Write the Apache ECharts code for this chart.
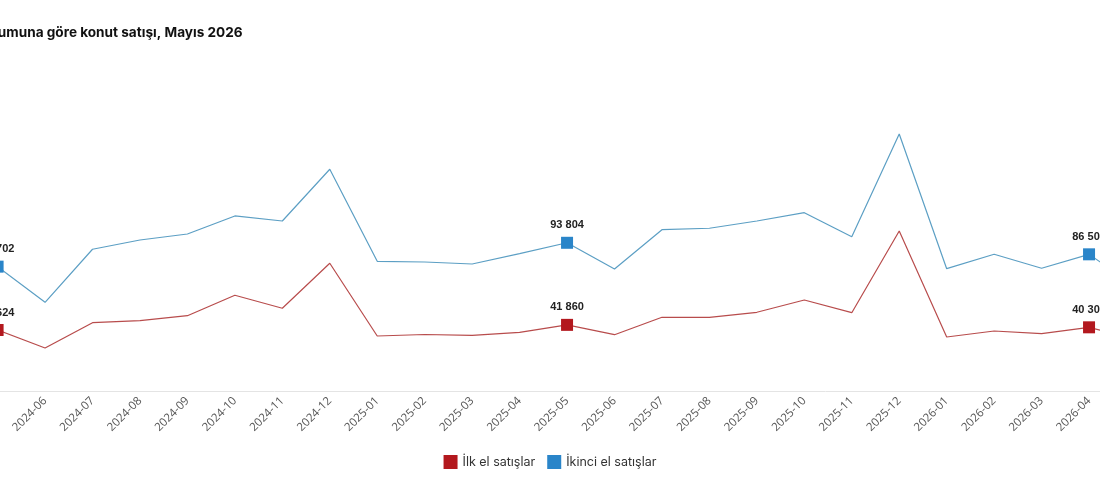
<!DOCTYPE html>
<html>
<head>
<meta charset="utf-8">
<script src="https://cdn.jsdelivr.net/npm/echarts@6/dist/echarts.min.js"></script>
<style>
  html, body { margin: 0; padding: 0; background: #fff; overflow: hidden; }
  #chart { width: 1100px; height: 494px; }
</style>
</head>
<body>
<div id="chart"></div>
<script>
// aylar
const months = ['2024-05', '2024-06', '2024-07', '2024-08', '2024-09', '2024-10', '2024-11', '2024-12',
  '2025-01', '2025-02', '2025-03', '2025-04', '2025-05', '2025-06', '2025-07', '2025-08', '2025-09',
  '2025-10', '2025-11', '2025-12', '2026-01', '2026-02', '2026-03', '2026-04', '2026-05']
// İlk el satışlar
const ilkEl = [38624, 27220, 43230, 44500, 47660, 60580, 52350, 80830, 34815, 35760, 35260, 37160,
  41860, 35640, 46650, 46650, 49820, 57600, 49560, 101280, 34180, 37980, 36270, 40306, 32900]
// İkinci el satışlar
const ikinciEl = [78702, 56150, 89700, 95580, 99380, 110780, 107610, 140340, 82100, 81660, 80390, 86910,
  93804, 77230, 102100, 103000, 107610, 112860, 97670, 162680, 77420, 86530, 77670, 86504, 65800]
// etiketli noktalar
const labeledIdx = [0, 12, 23]

const fmt = v => String(v).replace(/\B(?=(\d{3})+(?!\d))/g, ' ')

function buildData (values) {
  return values.map((v, i) => {
    if (labeledIdx.includes(i)) {
      return { value: v, symbol: 'rect', symbolSize: 12, label: { show: true } }
    }
    return { value: v, symbol: 'none' }
  })
}

const myChart = echarts.init(document.getElementById('chart'))
myChart.setOption({
  animation: false,
  title: {
    text: 'Satış durumuna göre konut satışı, Mayıs 2026',
    left: -66,
    top: 21,
    textStyle: {
      fontFamily: 'Inter',
      fontSize: 13.6,
      fontWeight: 'bold',
      color: '#111'
    }
  },
  legend: {
    bottom: 20,
    left: 'center',
    itemWidth: 14,
    itemHeight: 14,
    itemGap: 12,
    icon: 'rect',
    selectedMode: false,
    textStyle: { fontFamily: 'Inter', fontSize: 12.5, color: '#333' },
    data: ['İlk el satışlar', 'İkinci el satışlar']
  },
  grid: {
    left: -2.4,
    right: -36.5,
    top: 75,
    bottom: 103,
    outerBoundsMode: 'none',
    containLabel: false
  },
  xAxis: {
    type: 'category',
    boundaryGap: false,
    data: months,
    axisLine: { lineStyle: { color: '#e4e4e4', width: 1 } },
    axisTick: { show: false },
    axisLabel: {
      rotate: 45,
      margin: 8,
      interval: 0,
      fontFamily: 'Open Sans',
      fontSize: 11.5,
      color: '#555'
    }
  },
  yAxis: {
    type: 'value',
    min: 0,
    max: 200000,
    show: false,
    splitLine: { show: false }
  },
  series: [
    {
      name: 'İlk el satışlar',
      type: 'line',
      data: buildData(ilkEl),
      color: '#b3181e',
      lineStyle: { color: '#b84c4c', width: 1.2 },
      label: {
        position: 'top',
        distance: 6,
        formatter: p => fmt(p.value),
        fontFamily: 'Liberation Sans',
        fontSize: 11,
        fontWeight: 'bold',
        color: '#222'
      }
    },
    {
      name: 'İkinci el satışlar',
      type: 'line',
      data: buildData(ikinciEl),
      color: '#2a85c9',
      lineStyle: { color: '#5c9fc4', width: 1.2 },
      label: {
        position: 'top',
        distance: 6,
        formatter: p => fmt(p.value),
        fontFamily: 'Liberation Sans',
        fontSize: 11,
        fontWeight: 'bold',
        color: '#222'
      }
    }
  ]
})
</script>
</body>
</html>
